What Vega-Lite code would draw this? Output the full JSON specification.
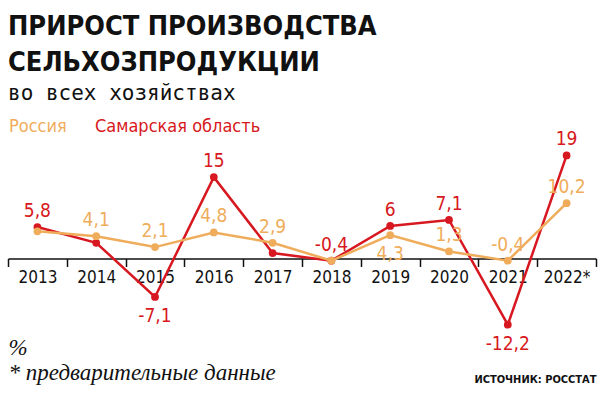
{
  "$schema": "https://vega.github.io/schema/vega-lite/v6.json",
  "autosize": {"type": "none"},
  "padding": {"left": 8, "top": 150, "right": 12, "bottom": 68},
  "width": 588,
  "height": 179,
  "background": "white",
  "config": {"view": {"stroke": null}},
  "title": {
    "text": ["ПРИРОСТ ПРОИЗВОДСТВА", "СЕЛЬХОЗПРОДУКЦИИ"],
    "subtitle": "во всех хозяйствах",
    "anchor": "start",
    "frame": "group",
    "font": "DejaVu Sans Condensed",
    "fontWeight": "bold",
    "fontSize": 27,
    "lineHeight": 36,
    "color": "#111111",
    "subtitleFont": "DejaVu Sans Mono",
    "subtitleFontSize": 21,
    "subtitleColor": "#111111",
    "subtitlePadding": 6,
    "offset": 13
  },
  "data": {
    "values": [
      {"year": "2013", "series": "Самарская область", "value": 5.8, "label": "5,8", "pos": "above"},
      {"year": "2014", "series": "Самарская область", "value": 2.9, "label": "", "pos": "none"},
      {"year": "2015", "series": "Самарская область", "value": -7.1, "label": "-7,1", "pos": "below"},
      {"year": "2016", "series": "Самарская область", "value": 15, "label": "15", "pos": "above"},
      {"year": "2017", "series": "Самарская область", "value": 1.0, "label": "", "pos": "none"},
      {"year": "2018", "series": "Самарская область", "value": -0.4, "label": "-0,4", "pos": "above"},
      {"year": "2019", "series": "Самарская область", "value": 6, "label": "6", "pos": "above"},
      {"year": "2020", "series": "Самарская область", "value": 7.1, "label": "7,1", "pos": "above"},
      {"year": "2021", "series": "Самарская область", "value": -12.2, "label": "-12,2", "pos": "below"},
      {"year": "2022*", "series": "Самарская область", "value": 19, "label": "19", "pos": "above"},
      {"year": "2013", "series": "Россия", "value": 5.0, "label": "", "pos": "none"},
      {"year": "2014", "series": "Россия", "value": 4.1, "label": "4,1", "pos": "above"},
      {"year": "2015", "series": "Россия", "value": 2.1, "label": "2,1", "pos": "above"},
      {"year": "2016", "series": "Россия", "value": 4.8, "label": "4,8", "pos": "above"},
      {"year": "2017", "series": "Россия", "value": 2.9, "label": "2,9", "pos": "above"},
      {"year": "2018", "series": "Россия", "value": -0.4, "label": "", "pos": "none"},
      {"year": "2019", "series": "Россия", "value": 4.3, "label": "4,3", "pos": "below"},
      {"year": "2020", "series": "Россия", "value": 1.3, "label": "1,3", "pos": "above"},
      {"year": "2021", "series": "Россия", "value": -0.4, "label": "-0,4", "pos": "above"},
      {"year": "2022*", "series": "Россия", "value": 10.2, "label": "10,2", "pos": "above"}
    ]
  },
  "encoding": {
    "x": {
      "field": "year",
      "type": "ordinal",
      "sort": null,
      "bandPosition": 0.5,
      "scale": {"type": "band", "paddingInner": 0, "paddingOuter": 0},
      "axis": {
        "orient": "bottom",
        "offset": -70.5,
        "domainColor": "#111111",
        "domainWidth": 1.5,
        "tickBand": "extent",
        "tickColor": "#111111",
        "tickWidth": 1.5,
        "tickSize": 8,
        "labelAngle": 0,
        "labelFont": "DejaVu Sans Condensed, sans-serif",
        "labelFontSize": 17,
        "labelColor": "#111111",
        "labelPadding": 3,
        "grid": false,
        "title": ["%", "* предварительные данные"],
        "titleFont": "Liberation Serif",
        "titleFontStyle": "italic",
        "titleFontWeight": "normal",
        "titleFontSize": 23,
        "titleColor": "#111111",
        "titleLineHeight": 25,
        "titleAnchor": "start",
        "titleAlign": "left",
        "titleBaseline": "alphabetic",
        "titleX": 0,
        "titleY": 96
      }
    },
    "y": {
      "field": "value",
      "type": "quantitative",
      "scale": {"domain": [-13, 20], "nice": false, "zero": false},
      "axis": {
        "orient": "right",
        "domain": false,
        "ticks": false,
        "labels": false,
        "grid": false,
        "title": "ИСТОЧНИК: РОССТАТ",
        "titleAngle": 0,
        "titleX": 0,
        "titleY": 232,
        "titleAlign": "right",
        "titleBaseline": "alphabetic",
        "titleFont": "DejaVu Sans Condensed",
        "titleFontWeight": "bold",
        "titleFontSize": 11,
        "titleColor": "#111111"
      }
    },
    "color": {
      "field": "series",
      "type": "nominal",
      "scale": {"domain": ["Россия", "Самарская область"], "range": ["#efad5c", "#d71820"]},
      "legend": {
        "orient": "none",
        "legendX": -17,
        "legendY": -32,
        "direction": "horizontal",
        "title": null,
        "symbolType": "circle",
        "symbolSize": 0,
        "symbolStrokeWidth": 0,
        "symbolOpacity": 0,
        "labelOffset": 0,
        "columnPadding": 10,
        "labelFont": "DejaVu Sans Condensed, sans-serif",
        "labelFontSize": 18,
        "labelLimit": 300,
        "encode": {"labels": {"update": {"fill": {"scale": "color", "field": "value"}}}}
      }
    }
  },
  "layer": [
    {"transform": [{"filter": "datum.series === 'Самарская область'"}], "mark": {"type": "line", "strokeWidth": 2.5}},
    {"transform": [{"filter": "datum.series === 'Самарская область'"}], "mark": {"type": "point", "filled": true, "opacity": 1, "size": 60}},
    {"transform": [{"filter": "datum.series === 'Россия'"}], "mark": {"type": "line", "strokeWidth": 2.5}},
    {"transform": [{"filter": "datum.series === 'Россия'"}], "mark": {"type": "point", "filled": true, "opacity": 1, "size": 60}},
    {"transform": [{"filter": "datum.pos === 'above'"}], "mark": {"type": "text", "baseline": "alphabetic", "dy": -10, "font": "DejaVu Sans Condensed, sans-serif", "fontSize": 19}, "encoding": {"text": {"field": "label"}}},
    {"transform": [{"filter": "datum.pos === 'below'"}], "mark": {"type": "text", "baseline": "top", "dy": 10, "font": "DejaVu Sans Condensed, sans-serif", "fontSize": 19}, "encoding": {"text": {"field": "label"}}}
  ]
}
